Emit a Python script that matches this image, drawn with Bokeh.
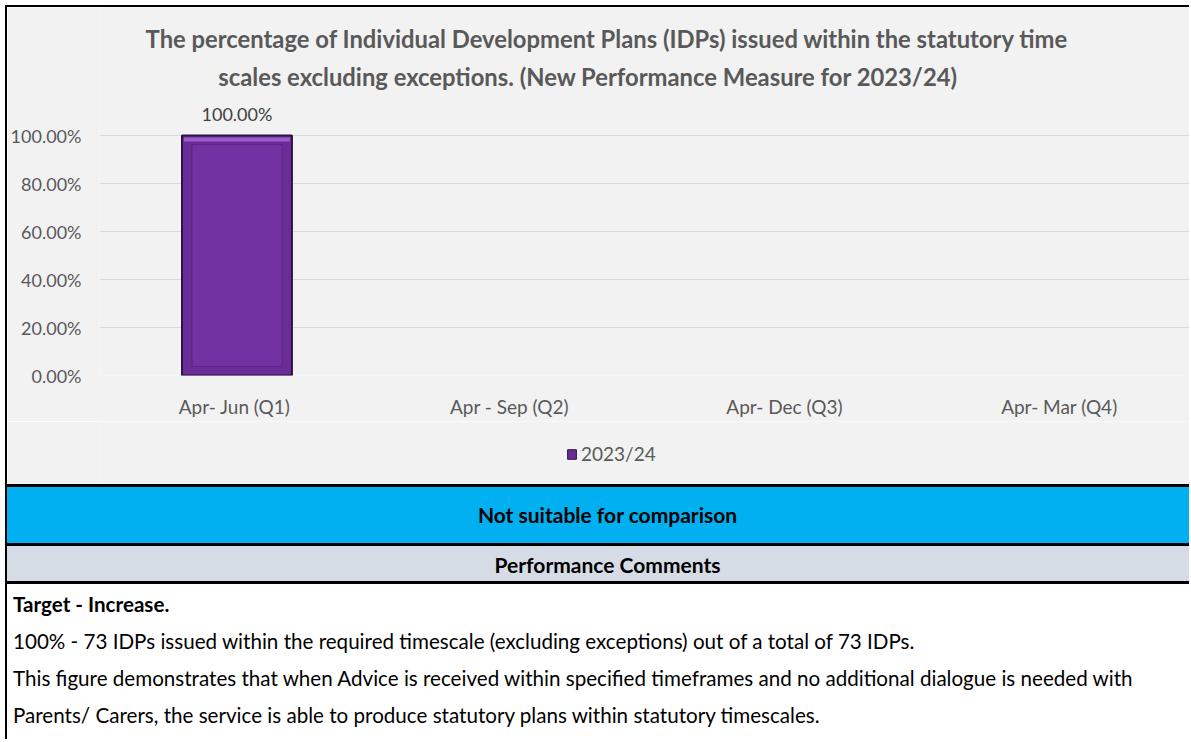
from bokeh.plotting import figure
from bokeh.models import Range1d, FixedTicker, Legend, LegendItem, Div
from bokeh.layouts import column, row
from bokeh.embed import file_html
from bokeh.resources import INLINE
from bokeh.core.properties import value

FONT = "Lato"

# ---------------- data ----------------
title_lines = [
    "The percentage of Individual Development Plans (IDPs) issued within the statutory time",
    "scales excluding exceptions. (New Performance Measure for 2023/24)",
]
categories = ["Apr- Jun  (Q1)", "Apr - Sep  (Q2)", "Apr- Dec  (Q3)", "Apr- Mar  (Q4)"]
series_name = "2023/24"
values = [1.00, None, None, None]
y_ticks = [0, 0.2, 0.4, 0.6, 0.8, 1.0]
y_tick_labels = ["0.00%", "20.00%", "40.00%", "60.00%", "80.00%", "100.00%"]
comparison_text = "Not suitable for comparison"
comments_header = "Performance Comments"
comment_lines = [
    "Target - Increase.",
    "100% - 73 IDPs issued within the required timescale (excluding exceptions) out of a total of 73 IDPs.",
    "This figure demonstrates that when Advice is received within specified timeframes and no additional dialogue is needed with",
    "Parents/ Carers, the service is able to produce statutory plans within statutory timescales.",
]
comment_bold = [True, False, False, False]

# ---------------- layout constants ----------------
W = 1182          # content width
CH = 414          # chart figure height
LEFT = 89         # frame left offset
BOTTOM = 46       # space below frame (x labels)
LEG_H = 63        # legend strip height
CAT_W = 275.7     # pixel width of one category
PX_PER_UNIT = 240 # pixels per 100%
FRAME_H = CH - BOTTOM
TEXT_H = 155
BAR_FILL = "#6a2d98"
BAR_LINE = "#2e1446"

# ---------------- chart ----------------
p = figure(width=W, height=CH,
           x_range=Range1d(0, (W - LEFT) / CAT_W),
           y_range=Range1d(0, FRAME_H / PX_PER_UNIT),
           output_backend="svg", toolbar_location=None,
           min_border_left=LEFT, min_border_right=0, min_border_top=0,
           min_border_bottom=BOTTOM,
           background_fill_color="#f2f2f2", border_fill_color="#f2f2f2",
           outline_line_color=None)

xs = [i + 0.5 for i, v in enumerate(values) if v is not None]
tops = [v for v in values if v is not None]
bw = 0.40

p.vbar(x=xs, top=tops, bottom=0, width=bw,
       fill_color=BAR_FILL, line_color=BAR_LINE, line_width=2)
# bevel effect
p.vbar(x=xs, top=[t - 9 / PX_PER_UNIT for t in tops], bottom=9 / PX_PER_UNIT,
       width=bw - 2 * 10 / CAT_W, fill_color="#7332a2", line_color="#5a2683", line_width=1)
p.vbar(x=xs, top=[t - 2 / PX_PER_UNIT for t in tops], bottom=[t - 6 / PX_PER_UNIT for t in tops],
       width=bw - 4 / CAT_W, fill_color="#9a5cc9", line_color=None)

p.text(x=xs, y=tops, text=[f"{t * 100:.2f}%" for t in tops],
       text_align="center", text_baseline="middle", y_offset=-22,
       text_font=value(FONT), text_font_size="18px", text_color="#404040")

# title inside the frame area above 100%
p.text(x=[509 / CAT_W, 490 / CAT_W],
       y=[1 + (128 - 31) / PX_PER_UNIT, 1 + (128 - 69) / PX_PER_UNIT],
       text=title_lines, text_align="center", text_baseline="middle",
       text_font=value(FONT), text_font_size="23.8px", text_font_style="bold",
       text_color="#595959")

yt = FixedTicker(ticks=y_ticks)
p.yaxis.ticker = yt
p.ygrid.ticker = yt
p.yaxis.major_label_overrides = {t: l for t, l in zip(y_ticks, y_tick_labels)}
xt = FixedTicker(ticks=[i + 0.5 for i in range(len(categories))])
p.xaxis.ticker = xt
p.xaxis.major_label_overrides = {i + 0.5: c for i, c in enumerate(categories)}

for ax in (p.xaxis, p.yaxis):
    ax.axis_line_color = None
    ax.major_tick_line_color = None
    ax.minor_tick_line_color = None
    ax.major_tick_out = 0
    ax.major_tick_in = 0
    ax.major_label_text_font = FONT
    ax.major_label_text_color = "#595959"
p.yaxis.major_label_text_font_size = "18px"
p.xaxis.major_label_text_font_size = "19px"
p.yaxis.major_label_standoff = 18
p.xaxis.major_label_standoff = 19

p.xgrid.grid_line_color = None
p.ygrid.grid_line_color = "#d9d9d9"
p.ygrid.grid_line_width = 1

# ---------------- legend strip ----------------
# the series is drawn again here only to feed the legend key; the y range
# keeps the bars themselves out of view
lg = figure(width=W, height=LEG_H, x_range=p.x_range, y_range=Range1d(2, 3),
            output_backend="svg", toolbar_location=None,
            min_border_left=LEFT, min_border_right=0, min_border_top=0, min_border_bottom=0,
            x_axis_type=None, y_axis_type=None,
            background_fill_color="#f2f2f2", border_fill_color="#f2f2f2",
            outline_line_color=None)
lg.grid.visible = False
key = lg.vbar(x=xs, top=tops, bottom=0, width=bw, fill_color=BAR_FILL,
              line_color=BAR_LINE, line_width=1)
legend = Legend(items=[LegendItem(label=series_name, renderers=[key])],
                orientation="horizontal", location=(467, 19),
                label_text_font=FONT, label_text_font_size="19px",
                label_text_color="#595959", glyph_width=11, glyph_height=12,
                label_standoff=4, padding=0, margin=0,
                background_fill_alpha=0, border_line_color=None)
lg.add_layout(legend)

# ---------------- panels below the chart (HTML) ----------------
band_style = ("display:flex;align-items:center;justify-content:center;"
              "box-sizing:border-box;padding-left:19px;font-weight:bold;"
              "font-size:21px;color:#000;")
comment_html = "".join(
    f'<div style="height:37px;line-height:37px;white-space:nowrap;'
    f'font-weight:{"bold" if b else "normal"};">{line}</div>'
    for line, b in zip(comment_lines, comment_bold))
html = (
    f'<div style="width:{W}px;font-family:Lato, sans-serif;">'
    '<div style="height:3px;background:#000;"></div>'
    f'<div style="height:56px;background:#00b0f0;{band_style}">{comparison_text}</div>'
    '<div style="height:3px;background:#000;"></div>'
    f'<div style="height:35px;background:#d6dce5;{band_style}padding-top:3px;">{comments_header}</div>'
    '<div style="height:3px;background:#000;"></div>'
    f'<div style="height:{TEXT_H}px;background:#fff;box-sizing:border-box;padding:2px 0 0 6px;'
    f'font-size:20.6px;color:#000;">{comment_html}</div>'
    '</div>'
)
bottom = Div(text=html, width=W, height=100 + TEXT_H, margin=0)

content = column(p, lg, bottom, spacing=0)
left_line = Div(width=2, height=CH + LEG_H + 100 + TEXT_H, margin=0,
                styles={"background-color": "#000000"})
top_line = Div(width=W + 2, height=2, margin=0, styles={"background-color": "#000000"})
layout = column(top_line, row(left_line, content, spacing=0), spacing=0, margin=(5, 0, 0, 5))

open("out.html", "w").write(file_html(layout, INLINE))
